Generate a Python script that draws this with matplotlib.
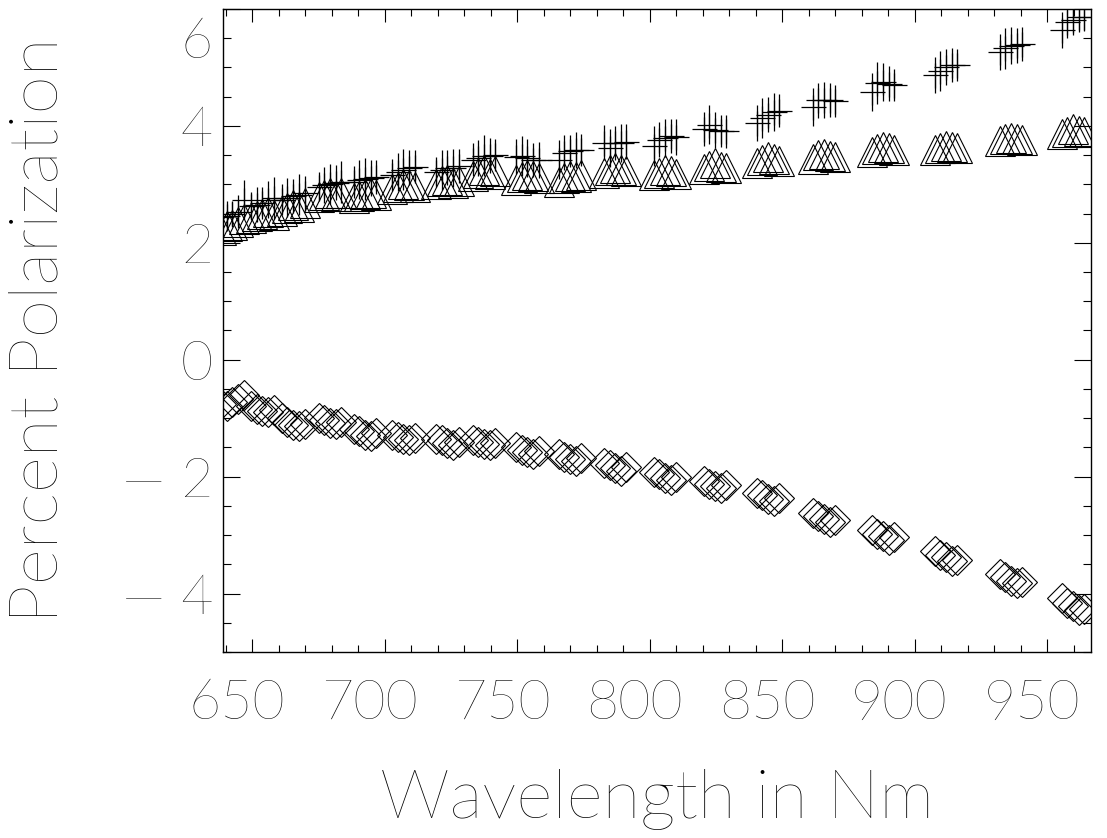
import matplotlib
matplotlib.use("Agg")
import matplotlib.pyplot as plt
from matplotlib.ticker import MultipleLocator
from matplotlib.transforms import ScaledTranslation

# wavelength of each measurement (nm)
wave = [
    638.2, 640.4, 642.5, 644.6, 646.8,
    649.5, 651.7, 653.8, 656.0, 658.1,
    661.2, 663.3, 665.5, 667.6, 669.8,
    675.1, 677.3, 679.4, 681.6, 683.7,
    688.3, 690.5, 692.6, 694.8, 696.9,
    702.7, 704.9, 707.0, 709.2, 711.3,
    719.3, 721.5, 723.6, 725.8, 727.9,
    733.2, 735.4, 737.5, 739.7, 741.8,
    749.5, 751.7, 753.8, 756.0, 758.1,
    765.7, 767.9, 770.0, 772.2, 774.3,
    782.7, 784.9, 787.0, 789.2, 791.3,
    801.5, 803.7, 805.8, 808.0, 810.1,
    820.4, 822.6, 824.7, 826.9, 829.0,
    840.4, 842.6, 844.7, 846.9, 849.0,
    861.5, 863.7, 865.8, 868.0, 870.1,
    883.8, 886.0, 888.1, 890.3, 892.4,
    907.6, 909.8, 911.9, 914.1, 916.2,
    932.1, 934.3, 936.4, 938.6, 940.7,
    955.5, 957.7, 959.8, 962.0, 964.1,
]

# plus symbols (with error bars)
pol_plus = [
    2.44, 2.46, 2.50, 2.53, 2.74,
    2.63, 2.65, 2.68, 2.74, 2.77,
    2.74, 2.77, 2.80, 2.82, 2.85,
    2.96, 2.99, 3.01, 3.03, 3.04,
    3.04, 3.08, 3.09, 3.11, 3.13,
    3.16, 3.21, 3.25, 3.28, 3.30,
    3.21, 3.25, 3.28, 3.28, 3.32,
    3.42, 3.45, 3.49, 3.49, 3.50,
    3.47, 3.49, 3.45, 3.42, 3.42,
    3.42, 3.54, 3.57, 3.59, 3.59,
    3.71, 3.62, 3.71, 3.71, 3.73,
    3.66, 3.76, 3.79, 3.83, 3.81,
    3.95, 4.02, 3.93, 3.91, 3.91,
    4.05, 4.14, 4.19, 4.24, 4.26,
    4.32, 4.44, 4.44, 4.44, 4.43,
    4.58, 4.74, 4.75, 4.72, 4.70,
    4.87, 4.94, 5.01, 5.04, 5.04,
    5.26, 5.33, 5.37, 5.38, 5.40,
    5.64, 5.78, 5.81, 5.86, 5.86,
]
err_plus = [
    0.30, 0.26, 0.22, 0.28, 0.34,
    0.24, 0.30, 0.27, 0.32, 0.36,
    0.26, 0.33, 0.29, 0.35, 0.30,
    0.25, 0.31, 0.34, 0.30, 0.36,
    0.28, 0.33, 0.36, 0.31, 0.29,
    0.27, 0.32, 0.35, 0.30, 0.28,
    0.26, 0.34, 0.30, 0.33, 0.29,
    0.28, 0.31, 0.35, 0.30, 0.27,
    0.30, 0.34, 0.32, 0.29, 0.31,
    0.33, 0.30, 0.28, 0.31, 0.27,
    0.30, 0.32, 0.29, 0.33, 0.30,
    0.34, 0.30, 0.33, 0.29, 0.31,
    0.29, 0.33, 0.30, 0.27, 0.28,
    0.31, 0.34, 0.30, 0.32, 0.28,
    0.33, 0.30, 0.31, 0.29, 0.27,
    0.32, 0.36, 0.33, 0.30, 0.28,
    0.30, 0.34, 0.31, 0.29, 0.28,
    0.31, 0.35, 0.32, 0.30, 0.29,
    0.30, 0.27, 0.25, 0.26, 0.24,
]

# triangles
pol_tri = [
    2.22, 2.28, 2.31, 2.35, 2.40,
    2.42, 2.46, 2.50, 2.52, 2.48,
    2.55, 2.60, 2.64, 2.62, 2.68,
    2.78, 2.82, 2.85, 2.80, 2.86,
    2.76, 2.80, 2.84, 2.86, 2.82,
    2.92, 2.96, 3.00, 2.98, 2.95,
    3.00, 3.05, 3.08, 3.02, 3.06,
    3.15, 3.20, 3.24, 3.18, 3.22,
    3.08, 3.12, 3.16, 3.14, 3.10,
    3.04, 3.10, 3.14, 3.12, 3.16,
    3.20, 3.25, 3.28, 3.24, 3.22,
    3.16, 3.20, 3.24, 3.22, 3.18,
    3.26, 3.32, 3.36, 3.30, 3.28,
    3.36, 3.42, 3.46, 3.44, 3.40,
    3.44, 3.50, 3.52, 3.48, 3.46,
    3.56, 3.60, 3.64, 3.62, 3.58,
    3.58, 3.62, 3.66, 3.64, 3.62,
    3.74, 3.78, 3.80, 3.78, 3.76,
    3.86, 3.90, 3.94, 3.92, 3.90,
]

# diamonds
pol_dia = [
    -0.76, -0.80, -0.72, -0.68, -0.60,
    -0.80, -0.84, -0.88, -0.90, -0.86,
    -1.00, -1.06, -1.12, -1.14, -1.10,
    -1.00, -1.04, -1.08, -1.10, -1.06,
    -1.18, -1.22, -1.28, -1.30, -1.26,
    -1.28, -1.32, -1.36, -1.38, -1.34,
    -1.36, -1.38, -1.42, -1.46, -1.40,
    -1.38, -1.40, -1.44, -1.46, -1.42,
    -1.50, -1.54, -1.58, -1.62, -1.56,
    -1.62, -1.66, -1.70, -1.74, -1.68,
    -1.76, -1.80, -1.86, -1.90, -1.84,
    -1.92, -1.96, -2.02, -2.06, -2.00,
    -2.08, -2.12, -2.16, -2.20, -2.14,
    -2.28, -2.32, -2.38, -2.42, -2.36,
    -2.62, -2.68, -2.72, -2.78, -2.74,
    -2.92, -2.98, -3.02, -3.08, -3.04,
    -3.28, -3.34, -3.38, -3.44, -3.42,
    -3.66, -3.72, -3.78, -3.82, -3.80,
    -4.08, -4.16, -4.22, -4.28, -4.26,
]

xticks = [650, 700, 750, 800, 850, 900, 950]
yticks = [-4, -2, 0, 2, 4, 6]
ylabels = ["\u2014 4", "\u2014 2", "0", "2", "4", "6"]

font = dict(family=["Lato", "DejaVu Sans"], weight="light")

fig = plt.figure(figsize=(11.07, 8.38), dpi=100)
ax = fig.add_axes([0.2014, 0.222, 0.7839, 0.7673])

ax.errorbar(wave, pol_plus, yerr=err_plus, fmt="+", color="k", ms=18,
            mew=0.9, elinewidth=0.9, capsize=0)
ax.plot(wave, pol_tri, "^", mfc="none", mec="k", ms=22, mew=0.8)
ax.plot(wave, pol_dia, "D", mfc="none", mec="k", ms=15, mew=0.8)

ax.set_xlim(639, 966.5)
ax.set_ylim(-5, 6)
ax.set_xticks(xticks)
ax.set_yticks(yticks)
ax.set_xticklabels([str(v) for v in xticks], fontsize=40, **font)
ax.set_yticklabels(ylabels, fontsize=40, **font)
ax.xaxis.set_minor_locator(MultipleLocator(10))
ax.yaxis.set_minor_locator(MultipleLocator(0.5))

ax.tick_params(which="both", direction="in", top=True, right=True, width=0.8)
ax.tick_params(axis="x", which="major", length=9.4, pad=19)
ax.tick_params(axis="x", which="minor", length=4.7)
ax.tick_params(axis="y", which="major", length=12.2, pad=7)
ax.tick_params(axis="y", which="minor", length=6.1)
for s in ax.spines.values():
    s.set_linewidth(1.0)

# IDL put the labels a little off the ticks
shift = ScaledTranslation(-0.15, 0, fig.dpi_scale_trans)
for lab in ax.get_xticklabels():
    lab.set_transform(lab.get_transform() + shift)
ylabs = ax.get_yticklabels()
ylabs[-1].set_transform(ylabs[-1].get_transform()
                        + ScaledTranslation(0, -0.29, fig.dpi_scale_trans))

ax.set_xlabel("Wavelength in Nm", fontsize=50, va="center", **font)
ax.xaxis.set_label_coords(0.5, -0.23)
ax.set_ylabel("Percent Polarization", fontsize=50, va="center", **font)
ax.yaxis.set_label_coords(-0.212, 0.5)

fig.savefig("out.png", dpi=100)
